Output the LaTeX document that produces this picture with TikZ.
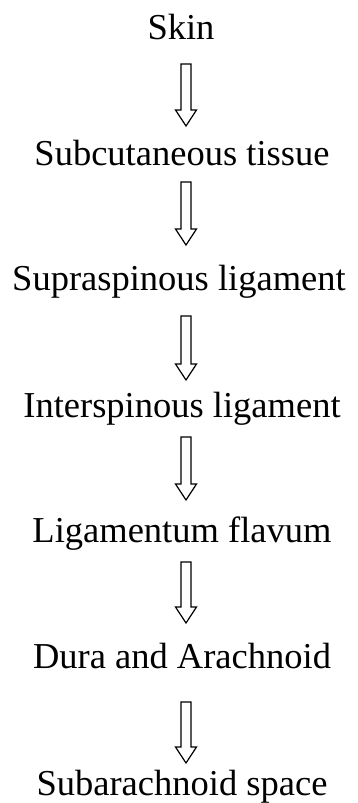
\documentclass[tikz,border=0pt]{standalone}
\usepackage{fontspec}
\setmainfont{Liberation Serif}
\usetikzlibrary{calc}
\tikzset{
  layer/.style={anchor=base, inner sep=0pt, font=\fontsize{36.5}{44}\selectfont},
  blockarrow/.style={draw=black, line width=1.2pt, line join=miter, fill=white}
}
\newcommand{\blkarrow}[2]{%
  \draw[blockarrow] ($(#1)+(-5pt,0)$) -- ($(#2)+(-5pt,16pt)$) -- ($(#2)+(-10.5pt,16pt)$)
    -- (#2) -- ($(#2)+(10.5pt,16pt)$) -- ($(#2)+(5pt,16pt)$) -- ($(#1)+(5pt,0)$) -- cycle;}
\begin{document}
\begin{tikzpicture}[x=1pt,y=1pt]
\useasboundingbox (0,0) rectangle (358,-803);
\node[layer] (n1) at (181,-39) {Skin};
\node[layer] (n2) at (182,-165) {Subcutaneous tissue};
\node[layer] (n3) at (179,-290) {Supraspinous ligament};
\node[layer] (n4) at (182,-417) {Interspinous ligament};
\node[layer] (n5) at (182,-542) {Ligamentum flavum};
\node[layer] (n6) at (182,-668) {Dura and Arachnoid};
\node[layer] (n7) at (182,-795) {Subarachnoid space};
\coordinate (s1) at (186,-64);  \coordinate (e1) at (186,-126);
\coordinate (s2) at (186,-182); \coordinate (e2) at (186,-245);
\coordinate (s3) at (186,-316); \coordinate (e3) at (186,-380);
\coordinate (s4) at (186,-437); \coordinate (e4) at (186,-500);
\coordinate (s5) at (186,-562); \coordinate (e5) at (186,-623);
\coordinate (s6) at (186,-702); \coordinate (e6) at (186,-763);
\blkarrow{s1}{e1}
\blkarrow{s2}{e2}
\blkarrow{s3}{e3}
\blkarrow{s4}{e4}
\blkarrow{s5}{e5}
\blkarrow{s6}{e6}
\end{tikzpicture}
\end{document}
